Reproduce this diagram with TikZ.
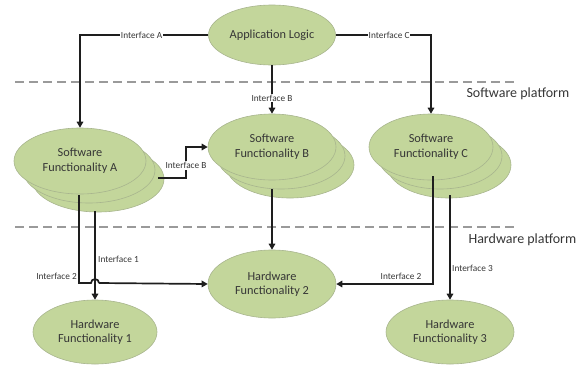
\documentclass[tikz,border=0pt]{standalone}
\usepackage{fontspec}
\setmainfont{Carlito}
\usetikzlibrary{shapes.geometric,arrows.meta,calc}
\definecolor{blobfill}{HTML}{C3D69B}
\definecolor{blobline}{HTML}{A8B58E}
\definecolor{inkgray}{HTML}{363636}
\definecolor{wire}{HTML}{1E1E1E}
\definecolor{dashgray}{HTML}{9A9A9A}
\tikzset{
  blob/.style={ellipse, fill=blobfill, draw=blobline, line width=0.6pt,
    inner sep=0pt, align=center, text=inkgray, font=\fontsize{12.3}{14.5}\selectfont},
  conn/.style={draw=wire, line width=1.7pt, -{Triangle[length=6pt,width=6.5pt]}},
  plain/.style={draw=wire, line width=1.7pt},
  iflabel/.style={font=\fontsize{9.3}{10}\selectfont, text=inkgray, inner sep=1pt},
  ifbox/.style={iflabel, fill=white},
  platline/.style={draw=dashgray, line width=1.3pt, dash pattern=on 9pt off 5pt},
  plattext/.style={font=\fontsize{14}{16}\selectfont, text=inkgray, anchor=west}
}
\begin{document}
\begin{tikzpicture}[x=1pt,y=-1pt]
\useasboundingbox (0,0) rectangle (587,365);

% platform separators
\draw[platline] (15,82) -- (515,82);
\draw[platline] (15,227) -- (515,227);
\node[plattext] (swplat) at (463,94) {Software platform};
\node[plattext] (hwplat) at (465,240) {Hardware platform};

% stacked copies behind the software blocks
\foreach \dx/\dy in {18/18, 9/9} {
  \filldraw[fill=blobfill, draw=blobline, line width=0.6pt] (80+\dx,161+\dy) ellipse [x radius=66, y radius=33];
  \filldraw[fill=blobfill, draw=blobline, line width=0.6pt] (272+\dx,147+\dy) ellipse [x radius=64, y radius=33];
  \filldraw[fill=blobfill, draw=blobline, line width=0.6pt] (431+\dx,147+\dy) ellipse [x radius=62, y radius=33];
}

% main blocks
\node[blob, minimum width=127pt, minimum height=60pt] (app) at (272,35) {Application Logic};
\node[blob, minimum width=132pt, minimum height=66pt] (swa) at (80,161) {Software\\Functionality A};
\node[blob, minimum width=128pt, minimum height=66pt] (swb) at (272,147) {Software\\Functionality B};
\node[blob, minimum width=124pt, minimum height=66pt] (swc) at (431,147) {Software\\Functionality C};
\node[blob, minimum width=128pt, minimum height=68pt] (hw2) at (272,284) {Hardware\\Functionality 2};
\node[blob, minimum width=124pt, minimum height=64pt] (hw1) at (95,332) {Hardware\\Functionality 1};
\node[blob, minimum width=128pt, minimum height=64pt] (hw3) at (450,332) {Hardware\\Functionality 3};

% connector start points on the stacks
\coordinate (aside) at (158,178);
\coordinate (aout2) at (79,195);
\coordinate (aout1) at (95,211);
\coordinate (bout) at (272,189);
\coordinate (cout2) at (433,176);
\coordinate (cout3) at (450,195);

% application logic to software blocks
\draw[conn] (app.west) -| node[ifbox, pos=0.26] (ifa) {Interface A} (swa.north);
\draw[conn] (app.east) -| node[ifbox, pos=0.28] (ifc) {Interface C} (swc.north);
\draw[conn] (app.south) -- node[ifbox, pos=0.68] (ifbtop) {Interface B} (swb.north);

% software A to software B
\draw[conn] (aside) -- ++(28,0) |- node[ifbox, pos=0.2] (ifbside) {Interface B} (swb.west);

% software B to hardware 2
\draw[conn] (bout) -- (hw2.north);

% software A to hardware
\draw[plain] (aout2) -- (79,283) -- (91,283) arc (180:360:4) -- (99,283);
\draw[conn] (99,283) -- (hw2.west);
\node[iflabel, anchor=south east] (if2a) at (78,281) {Interface 2};
\draw[conn] (aout1) -- (hw1.north);
\node[iflabel, anchor=west] (if1) at (97,259) {Interface 1};

% software C to hardware
\draw[conn] (cout2) |- (hw2.east);
\node[iflabel, anchor=south] (if2c) at (401,281) {Interface 2};
\draw[conn] (cout3) -- (hw3.north);
\node[iflabel, anchor=west] (if3) at (451,268) {Interface 3};
\end{tikzpicture}
\end{document}
